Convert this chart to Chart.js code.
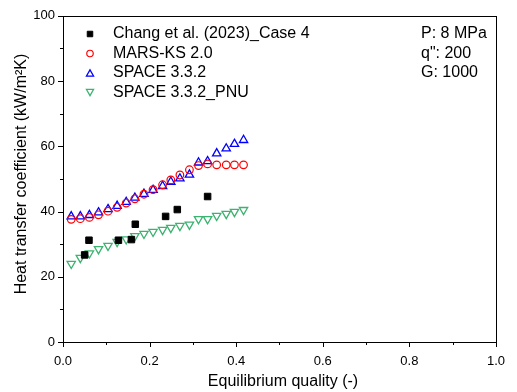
<!DOCTYPE html>
<html>
<head>
<meta charset="utf-8">
<script src="https://cdn.jsdelivr.net/npm/chart.js@4/dist/chart.umd.min.js"></script>
<style>
  html, body { margin: 0; padding: 0; background: #fff; }
  #wrap { width: 517px; height: 392px; }
</style>
</head>
<body>
<div id="wrap"><canvas id="c" width="517" height="392"></canvas></div>
<script>
// ---- Data ----
const expX   = [0.050, 0.060, 0.128, 0.158, 0.167, 0.237, 0.264, 0.334];
const expY   = [26.7, 31.2, 31.2, 31.4, 36.1, 38.5, 40.6, 44.6];

const codeX  = [0.019, 0.040, 0.061, 0.082, 0.104, 0.125, 0.146, 0.166, 0.187, 0.208,
                0.230, 0.249, 0.270, 0.292, 0.313, 0.334, 0.355, 0.377, 0.396, 0.417];
const marsY  = [37.6, 37.8, 38.2, 39.0, 40.1, 41.3, 42.6, 43.9, 45.3, 46.7,
                48.2, 49.7, 51.2, 52.8, 54.1, 54.6, 54.3, 54.3, 54.3, 54.3];
const spaceY = [38.5, 38.5, 38.9, 39.7, 40.7, 41.7, 42.9, 44.2, 45.4, 46.6,
                47.8, 49.1, 50.1, 51.3, 55.0, 55.4, 57.8, 59.3, 60.7, 61.9];
const pnuY   = [24.0, 25.8, 27.2, 28.5, 29.5, 30.7, 31.5, 32.5, 33.2, 33.8,
                34.4, 35.0, 35.6, 36.0, 37.7, 37.7, 38.7, 39.3, 39.9, 40.5];

const seriesLabels = ["Chang et al. (2023)_Case 4", "MARS-KS 2.0", "SPACE 3.3.2", "SPACE 3.3.2_PNU"];
const noteLines = ["P: 8 MPa", "q\": 200", "G: 1000"];
const xTitle = "Equilibrium quality (-)";
const yTitle = "Heat transfer coefficient (kW/m\u00B2K)";

const FONT = "'Liberation Sans', Arial, sans-serif";
const pts = (xs, ys) => xs.map((x, i) => ({x: x, y: ys[i]}));

const datasets = [
  { label: seriesLabels[0], data: pts(expX, expY), pointStyle: 'rect', pointRadius: 4.6,
    backgroundColor: '#000', borderColor: '#000', borderWidth: 1 },
  { label: seriesLabels[1], data: pts(codeX, marsY), pointStyle: 'circle', pointRadius: 3.8,
    backgroundColor: 'rgba(0,0,0,0)', borderColor: '#ff0000', borderWidth: 1.2 },
  { label: seriesLabels[2], data: pts(codeX, spaceY), pointStyle: 'triangle', pointRadius: 4.8,
    backgroundColor: 'rgba(0,0,0,0)', borderColor: '#0000ff', borderWidth: 1.3 },
  { label: seriesLabels[3], data: pts(codeX, pnuY), pointStyle: 'triangle', rotation: 180, pointRadius: 4.8,
    backgroundColor: 'rgba(0,0,0,0)', borderColor: '#3cb371', borderWidth: 1.3 }
];

const decor = {
  id: 'decor',
  afterDraw(chart) {
    const ctx = chart.ctx;
    const a = chart.chartArea;
    const xs = chart.scales.x, ys = chart.scales.y;
    ctx.save();
    // frame
    ctx.strokeStyle = '#000';
    ctx.lineWidth = 1;
    ctx.strokeRect(Math.round(a.left) + 0.5, Math.round(a.top) + 0.5,
                   Math.round(a.right - a.left), Math.round(a.bottom - a.top));
    // ticks
    ctx.beginPath();
    for (let i = 0; i <= 10; i++) {
      const v = i / 10;
      const px = Math.round(xs.getPixelForValue(v)) + 0.5;
      const len = (i % 2 === 0) ? 5 : 3;
      ctx.moveTo(px, a.bottom); ctx.lineTo(px, a.bottom + len);
    }
    for (let i = 0; i <= 10; i++) {
      const v = i * 10;
      const py = Math.round(ys.getPixelForValue(v)) + 0.5;
      const len = (i % 2 === 0) ? 5 : 3;
      ctx.moveTo(a.left, py); ctx.lineTo(a.left - len, py);
    }
    ctx.stroke();

    // axis titles
    ctx.fillStyle = '#000';
    ctx.font = '16px ' + FONT;
    ctx.textAlign = 'center';
    ctx.textBaseline = 'middle';
    ctx.fillText(xTitle, 283, 382);
    ctx.save();
    ctx.translate(22, 174);
    ctx.rotate(-Math.PI / 2);
    ctx.fillText(yTitle, 0, 0);
    ctx.restore();

    // legend
    const rows = [34, 53.5, 73, 92.5];
    chart.data.datasets.forEach((ds, i) => {
      ctx.save();
      ctx.strokeStyle = ds.borderColor;
      ctx.fillStyle = ds.backgroundColor;
      ctx.lineWidth = ds.borderWidth;
      Chart.helpers.drawPoint(ctx, {
        pointStyle: ds.pointStyle, radius: ds.pointRadius * 0.85,
        rotation: ds.rotation || 0, borderWidth: ds.borderWidth
      }, 90, rows[i] + (ds.pointStyle === 'triangle' ? (ds.rotation ? -1 : 1) : 0));
      ctx.restore();
      ctx.fillStyle = '#000';
      ctx.font = '16px ' + FONT;
      ctx.textAlign = 'left';
      ctx.textBaseline = 'middle';
      ctx.fillText(ds.label, 113, rows[i]);
    });
    noteLines.forEach((t, i) => {
      ctx.fillText(t, 421, rows[i]);
    });
    ctx.restore();
  }
};

new Chart(document.getElementById('c'), {
  type: 'scatter',
  data: { datasets: datasets },
  options: {
    responsive: false,
    animation: false,
    devicePixelRatio: 1,
    layout: { padding: { left: 0, right: 14, top: 15, bottom: 0 } },
    plugins: { legend: { display: false }, tooltip: { enabled: false } },
    scales: {
      x: {
        type: 'linear', min: 0, max: 1,
        border: { display: false },
        grid: { display: false, drawTicks: false },
        ticks: { stepSize: 0.2, padding: 12, color: '#000', maxRotation: 0,
                 font: { family: FONT, size: 13 },
                 callback: v => v.toFixed(1) },
        afterFit: s => { s.height = 50; }
      },
      y: {
        type: 'linear', min: 0, max: 100,
        border: { display: false },
        grid: { display: false, drawTicks: false },
        ticks: { stepSize: 20, padding: 8, color: '#000',
                 font: { family: FONT, size: 13 } },
        afterFit: s => { s.width = 63; }
      }
    }
  },
  plugins: [decor]
});
</script>
</body>
</html>
